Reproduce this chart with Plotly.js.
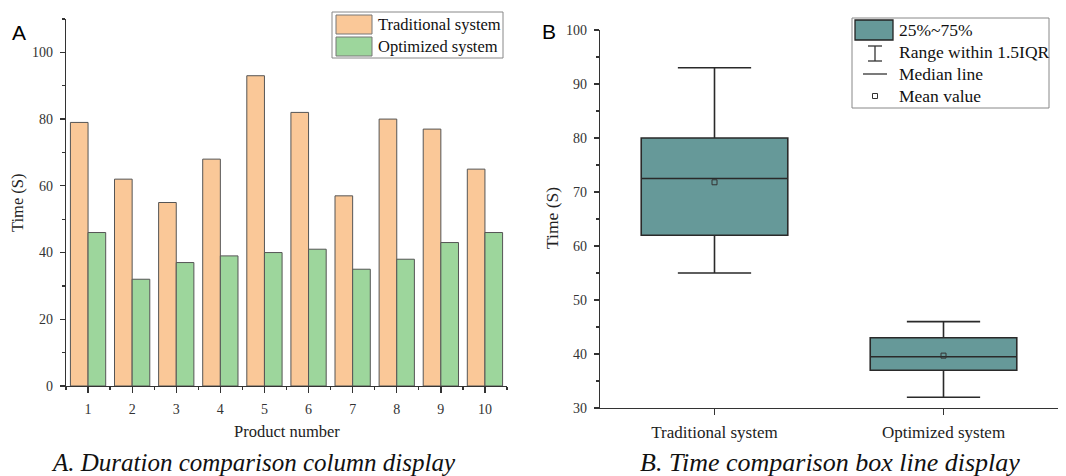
<!DOCTYPE html>
<html>
<head>
<meta charset="utf-8">
<script src="https://cdn.plot.ly/plotly-3.0.1.min.js"></script>
<style>
html,body{margin:0;padding:0;background:#fff;}
#chart{width:1066px;height:476px;}
</style>
</head>
<body>
<div id="chart"></div>
<script>
// ---- data ----
const productNumbers = [1, 2, 3, 4, 5, 6, 7, 8, 9, 10];
const traditionalTimes = [79, 62, 55, 68, 93, 82, 57, 80, 77, 65];
const optimizedTimes = [46, 32, 37, 39, 40, 41, 35, 38, 43, 46];
const seriesNames = ['Traditional system', 'Optimized system'];
const boxLegendLabels = ['25%~75%', 'Range within 1.5IQR', 'Median line', 'Mean value'];

const W = 1066, H = 476;
const px = v => v / W;
const py = v => 1 - v / H;
const mean = a => a.reduce((s, v) => s + v, 0) / a.length;

const serif = '"Liberation Serif", "DejaVu Serif", serif';
const sans = '"Liberation Sans", "Open Sans", sans-serif';
const tickFont = {family: serif, size: 14, color: '#333'};
const peach = '#FAC898';
const green = '#9DD69C';
const teal = '#669999';

const traces = [
  {type: 'bar', x: productNumbers, y: traditionalTimes, name: seriesNames[0],
   marker: {color: peach, line: {color: '#555', width: 1}}, xaxis: 'x', yaxis: 'y', showlegend: false},
  {type: 'bar', x: productNumbers, y: optimizedTimes, name: seriesNames[1],
   marker: {color: green, line: {color: '#555', width: 1}}, xaxis: 'x', yaxis: 'y', showlegend: false},
  {type: 'box', y: traditionalTimes, name: seriesNames[0], x: traditionalTimes.map(() => seriesNames[0]),
   quartilemethod: 'exclusive', boxpoints: false, width: 0.64, whiskerwidth: 0.5,
   fillcolor: teal, line: {color: '#2a2a2a', width: 1.6}, xaxis: 'x2', yaxis: 'y2', showlegend: false},
  {type: 'box', y: optimizedTimes, name: seriesNames[1], x: optimizedTimes.map(() => seriesNames[1]),
   quartilemethod: 'exclusive', boxpoints: false, width: 0.64, whiskerwidth: 0.5,
   fillcolor: teal, line: {color: '#2a2a2a', width: 1.6}, xaxis: 'x2', yaxis: 'y2', showlegend: false},
  {type: 'scatter', mode: 'markers', x: seriesNames, y: [mean(traditionalTimes), mean(optimizedTimes)],
   marker: {symbol: 'square-open', size: 5, color: '#333', line: {width: 1}},
   xaxis: 'x2', yaxis: 'y2', showlegend: false, name: 'Mean value'}
];

const axisCommon = {showgrid: false, zeroline: false, showline: true, linecolor: '#333', linewidth: 1.3,
  ticks: 'outside', tickcolor: '#333', tickwidth: 1.3, tickfont: tickFont};

const layout = {
  width: W, height: H,
  margin: {l: 0, r: 0, t: 0, b: 0},
  font: {family: serif},
  paper_bgcolor: '#fff', plot_bgcolor: 'rgba(0,0,0,0)',
  barmode: 'group', bargap: 0.2, bargroupgap: 0,
  boxmode: 'overlay',
  xaxis: Object.assign({}, axisCommon, {
    domain: [px(66), px(507)], anchor: 'y', range: [0.5, 10.5],
    tickmode: 'array', tickvals: productNumbers, ticklen: 6, ticklabelstandoff: 4,
    minor: {tickmode: 'linear', tick0: 0.5, dtick: 1, ticklen: 3, tickcolor: '#333', ticks: 'outside'}
  }),
  yaxis: Object.assign({}, axisCommon, {
    domain: [py(386), py(19)], anchor: 'x', range: [0, 110],
    tickmode: 'linear', tick0: 0, dtick: 20, ticklen: 5, ticklabelstandoff: 4,
    minor: {tickmode: 'linear', tick0: 10, dtick: 20, ticklen: 3, tickcolor: '#333', ticks: 'outside'}
  }),
  xaxis2: Object.assign({}, axisCommon, {
    domain: [px(600), px(1058)], anchor: 'y2', type: 'category', range: [-0.5, 1.5],
    ticklen: 6, ticklabelstandoff: 2, tickfont: {family: serif, size: 17, color: '#222'}
  }),
  yaxis2: Object.assign({}, axisCommon, {
    domain: [py(408), py(30)], anchor: 'x2', range: [30, 100],
    tickmode: 'linear', tick0: 30, dtick: 10, ticklen: 5, ticklabelstandoff: 4,
    minor: {tickmode: 'linear', tick0: 35, dtick: 10, ticklen: 3, tickcolor: '#333', ticks: 'outside'}
  }),
  shapes: [],
  annotations: []
};

const ann = (text, x, y, opts) => Object.assign({
  text: text, x: px(x), y: py(y), xref: 'paper', yref: 'paper',
  showarrow: false, xanchor: 'center', yanchor: 'middle',
  font: {family: serif, size: 16.5, color: '#222'}
}, opts || {});

// axis titles, panel labels, captions
layout.annotations.push(ann('Time (S)', 17, 203, {textangle: -90}));
layout.annotations.push(ann('Product number', 287, 431, {font: {family: serif, size: 16.5, color: '#222'}}));
layout.annotations.push(ann('Time (S)', 552, 218, {textangle: -90, font: {family: serif, size: 17.5, color: '#222'}}));
layout.annotations.push(ann('A', 19, 33, {font: {family: sans, size: 21, color: '#000'}}));
layout.annotations.push(ann('B', 549, 32, {font: {family: sans, size: 21, color: '#000'}}));
layout.annotations.push(ann('<i>A. Duration comparison column display</i>', 253, 462, {font: {family: serif, size: 25, color: '#111'}}));
layout.annotations.push(ann('<i>B. Time comparison box line display</i>', 830, 462, {font: {family: serif, size: 26, color: '#111'}}));

// drawn legends
const rect = (x0, y0, x1, y1, fill, lineColor, lw) => ({type: 'rect', xref: 'paper', yref: 'paper',
  x0: px(x0), x1: px(x1), y0: py(y1), y1: py(y0), fillcolor: fill, line: {color: lineColor, width: lw}});
const seg = (x0, y0, x1, y1, c, lw) => ({type: 'line', xref: 'paper', yref: 'paper',
  x0: px(x0), x1: px(x1), y0: py(y0), y1: py(y1), line: {color: c, width: lw}});

layout.shapes.push(rect(332, 12, 503, 58, '#fff', '#888', 1));
layout.shapes.push(rect(336, 15, 372, 34, peach, '#777', 1));
layout.shapes.push(rect(336, 37, 372, 56, green, '#777', 1));
layout.annotations.push(ann(seriesNames[0], 376, 24.5, {xanchor: 'left', font: {family: serif, size: 16.5, color: '#111'}}));
layout.annotations.push(ann(seriesNames[1], 376, 46.5, {xanchor: 'left', font: {family: serif, size: 16.5, color: '#111'}}));

layout.shapes.push(rect(852, 18, 1049, 108, '#fff', '#888', 1));
layout.shapes.push(rect(855, 20, 893, 40, teal, '#222', 1.3));
layout.shapes.push(seg(875, 46, 875, 61, '#333', 1.3));
layout.shapes.push(seg(868, 46, 882, 46, '#333', 1.3));
layout.shapes.push(seg(868, 61, 882, 61, '#333', 1.3));
layout.shapes.push(seg(863, 74, 887, 74, '#333', 1.3));
layout.shapes.push(rect(872.5, 93.5, 877.5, 98.5, 'rgba(0,0,0,0)', '#333', 1));
const legY = [30, 52, 74, 96];
boxLegendLabels.forEach((t, i) => layout.annotations.push(
  ann(t, 897, legY[i], {xanchor: 'left', font: {family: serif, size: 17.5, color: '#111'}})));

Plotly.newPlot('chart', traces, layout, {displayModeBar: false, staticPlot: true});
</script>
</body>
</html>
